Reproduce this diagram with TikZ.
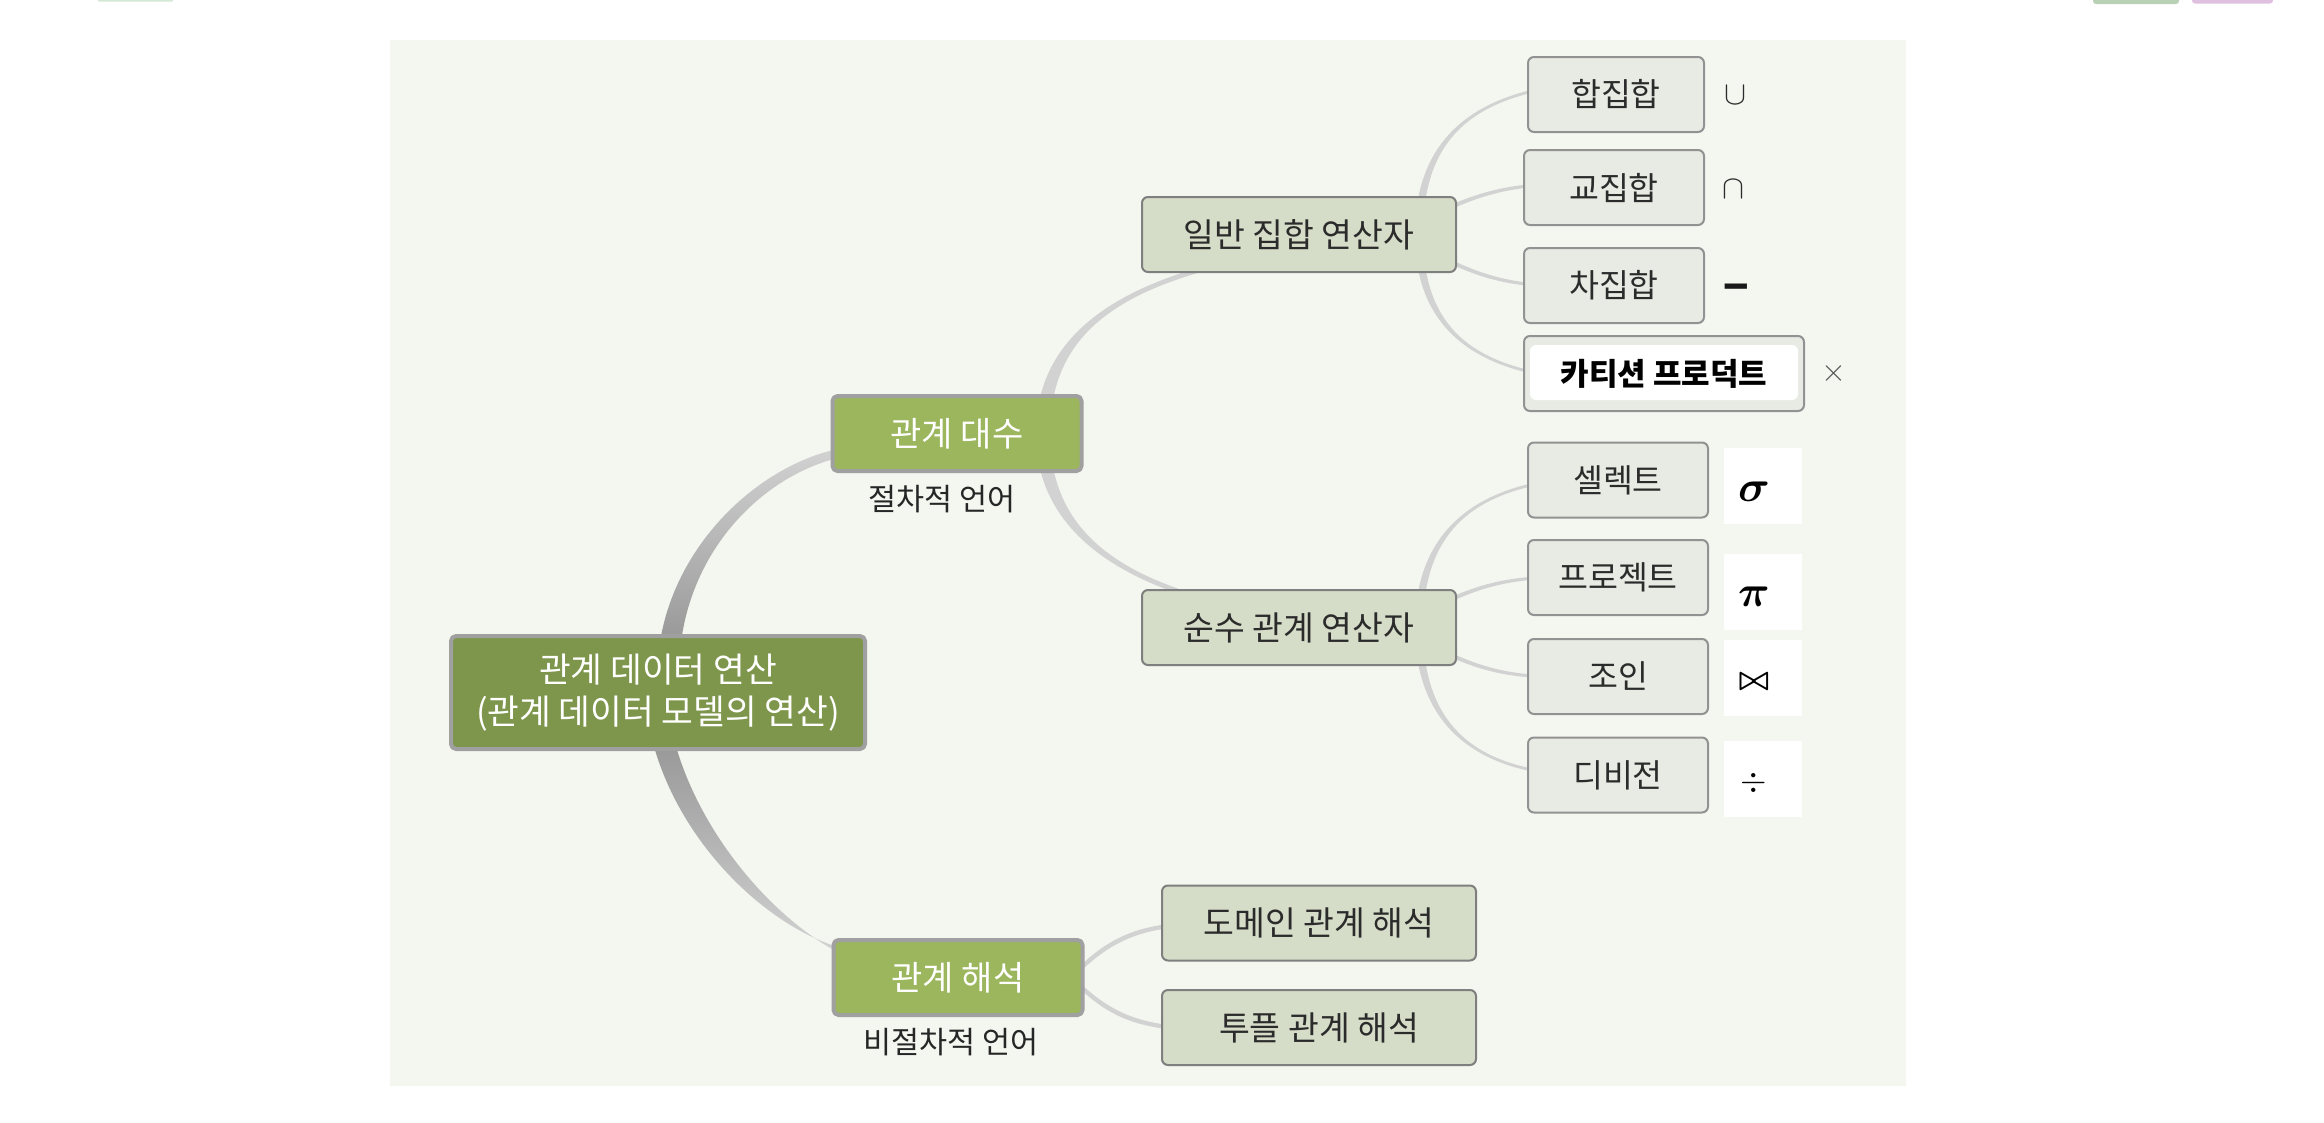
\RequirePackage{fix-cm}
\documentclass[tikz,border=0pt]{standalone}
\usepackage{amsmath}
\usepackage{fontspec}
\setmainfont{Noto Sans CJK KR}
\usetikzlibrary{positioning,calc}
\pgfdeclarelayer{back}
\pgfsetlayers{back,main}

\definecolor{panel}{HTML}{F4F6F0}
\definecolor{rootgreen}{HTML}{7E964C}
\definecolor{mossgreen}{HTML}{9BB65D}
\definecolor{boxline}{HTML}{A0A0A0}
\definecolor{subfill}{HTML}{D5DCC7}
\definecolor{leaffill}{HTML}{E8EBE3}
\definecolor{edgegray}{HTML}{7F7F7F}
\definecolor{twiggray}{HTML}{D2D2D2}
\definecolor{trunkdark}{HTML}{989898}
\definecolor{inkgray}{HTML}{2B2B2B}
\definecolor{tabmint}{HTML}{D3E8D5}
\definecolor{tabgreen}{HTML}{B8D0B4}
\definecolor{tabpink}{HTML}{DFC0E1}

\tikzset{
  rootbox/.style={draw=boxline, line width=4pt, fill=rootgreen, rounded corners=5pt,
    text=white, align=center, minimum width=414pt, minimum height=113pt, outer sep=0pt,
    font=\fontsize{34.5}{42}\selectfont},
  mainbox/.style={draw=boxline, line width=4pt, fill=mossgreen, rounded corners=5pt,
    text=white, minimum width=249pt, minimum height=75pt, outer sep=0pt,
    font=\fontsize{34}{40}\selectfont},
  subbox/.style={draw=edgegray, line width=2pt, fill=subfill, rounded corners=6pt,
    text=inkgray, minimum width=314pt, minimum height=75pt, outer sep=0pt,
    font=\fontsize{33.5}{40}\selectfont},
  leafbox/.style={draw=edgegray!85, line width=2pt, fill=leaffill, rounded corners=6pt,
    text=inkgray, minimum width=180pt, minimum height=75pt, outer sep=0pt,
    font=\fontsize{32.5}{38}\selectfont},
  symbox/.style={fill=white, minimum width=78pt, minimum height=76pt, inner sep=0pt, outer sep=0pt},
  symtext/.style={text=black, inner sep=0pt},
  opsign/.style={text=inkgray, inner sep=0pt},
  note/.style={text=black!85, inner sep=0pt, font=\fontsize{30.5}{36}\selectfont},
  twig/.style={fill=twiggray},
}

% tapered branch: start, ctrl1, ctrl2, end, start offset, end half width
\newcommand{\twig}[6]{%
  \fill[twig] ($#1+#5$) .. controls +#2 and +#3 .. ($#4+(0,#6)$)
    -- ($#4-(0,#6)$) .. controls +#3 and +#2 .. ($#1-#5$) -- cycle;}

\begin{document}
\begin{tikzpicture}[x=1pt, y=-1pt, line join=round, line cap=round]
	\useasboundingbox (0,0) rectangle (2324,1122);

	% tabs cut off at the top edge
	\fill[tabmint, rounded corners=1pt] (98,-6) rectangle (173,1.5);
	\fill[tabgreen, rounded corners=3pt] (2093,-6) rectangle (2179,4);
	\fill[tabpink, rounded corners=3pt] (2192,-6) rectangle (2273,3.5);

	\node[rootbox] (root) at (658,692.5) {관계 데이터 연산\\(관계 데이터 모델의 연산)};
	\node[mainbox] (algebra) at (957,433.5) {관계 대수};
	\node[mainbox] (calculus) at (958,977.5) {관계 해석};
	\node[note] (algnote) at ($(algebra.south)+(-15,28)$) {절차적 언어};
	\node[note] (calcnote) at ($(calculus.south)+(-7,27)$) {비절차적 언어};

	\node[subbox] (setop) at (1299,234.5) {일반 집합 연산자};
	\node[subbox] (pureop) at (1299,627.5) {순수 관계 연산자};
	\node[subbox] (domain) at (1319,923) {도메인 관계 해석};
	\node[subbox] (tuple) at (1319,1027.5) {투플 관계 해석};

	\node[leafbox, minimum width=176pt] (union) at (1616,94.5) {합집합};
	\node[leafbox] (inter) at (1614,187.5) {교집합};
	\node[leafbox] (diff) at (1614,285.5) {차집합};
	\node[leafbox, minimum width=280pt, text=black, font=\fontsize{31}{36}\selectfont\bfseries,
		path picture={\fill[white] ([shift={(6,9)}]path picture bounding box.north west)
			rectangle ([shift={(-6,-11)}]path picture bounding box.south east);}]
		(cart) at (1664,373.5) {카티션 프로덕트};
	\node[leafbox] (select) at (1618,480) {셀렉트};
	\node[leafbox] (project) at (1618,577.5) {프로젝트};
	\node[leafbox] (join) at (1618,676.5) {조인};
	\node[leafbox] (divide) at (1618,775) {디비전};

	% set operator signs
	\node[opsign, font=\fontsize{33}{33}\selectfont] (unionsign) at (1735,95) {$\cup$};
	\node[opsign, font=\fontsize{33}{33}\selectfont] (intersign) at (1733,189) {$\cap$};
	\node[opsign, text=black!90, font=\fontsize{42}{42}\selectfont\bfseries] (diffsign) at (1736,293) {−};
	\node[opsign, text=black!65, font=\fontsize{32}{32}\selectfont] (cartsign) at (1834,373) {$\times$};

	% relational operator signs
	\node[symbox] (selsym) at (1763,486) {};
	\node[symbox] (projsym) at (1763,591.5) {};
	\node[symbox] (joinsym) at (1763,677.5) {};
	\node[symbox] (divsym) at (1763,779) {};
	\node[symtext, font=\fontsize{44}{44}\selectfont] at ($(selsym)+(-9,6)$) {$\boldsymbol{\sigma}$};
	\node[symtext, font=\fontsize{44}{44}\selectfont] at ($(projsym)+(-9,5.5)$) {$\boldsymbol{\pi}$};
	\node[symtext, font=\fontsize{32}{32}\selectfont] at ($(joinsym)+(-9,4.5)$) {$\boldsymbol{\bowtie}$};
	\node[symtext, font=\fontsize{34}{34}\selectfont] at ($(divsym)+(-9,4)$) {$\div$};

	\begin{pgfonlayer}{back}
	\fill[panel] (390,40) rectangle (1906,1086);

	% trunks from the root
	\path[bottom color=trunkdark, top color=twiggray]
		($(root.north)+(2,6)$) .. controls +(16,-100) and +(-78,17) .. ($(algebra.west)+(5,15.5)$)
		-- ($(algebra.west)+(5,24.5)$) .. controls +(-72,18) and +(13,-98) .. ($(root.north)+(23,6)$) -- cycle;
	\path[top color=trunkdark, bottom color=twiggray]
		($(root.south)+(-5,-6)$) .. controls +(27,100) and +(-73,-23) .. ($(calculus.west)+(4,-30.5)$)
		-- ($(calculus.west)+(4,-25.5)$) .. controls +(-67,-36) and +(25,90) .. ($(root.south)+(17,-6)$) -- cycle;

	\twig{(algebra)+(86,0)}{(0,-93.5)}{(-120,28)}{(setop)+(-69,27.5)}{(7,0)}{2.5}
	\twig{(algebra)+(86,0)}{(0,91.5)}{(-120,-28)}{(pureop)+(-69,-21.5)}{(-7,0)}{2.5}
	\twig{(calculus)+(102,12.5)}{(40,-45)}{(-70,1)}{(domain)+(-119,1)}{(0,3)}{2}
	\twig{(calculus)+(102,-12.5)}{(40,45)}{(-70,-1)}{(tuple)+(-119,1.5)}{(0,3)}{2}

	\twig{(setop)+(120,0)}{(0,-84)}{(-100,14)}{(union)+(-56,-8.5)}{(4,0)}{1.5}
	\twig{(setop)+(101,-6.5)}{(60,-22)}{(-80,2)}{(inter)+(-54,-3.5)}{(0,2.5)}{1.5}
	\twig{(setop)+(101,6.5)}{(60,21)}{(-80,-1)}{(diff)+(-54,0.5)}{(0,2.5)}{1.5}
	\twig{(setop)+(120,0)}{(0,86)}{(-95,-12)}{(cart)+(-104,3.5)}{(-4,0)}{1.5}

	\twig{(pureop)+(120,0)}{(0,-83)}{(-100,12)}{(select)+(-58,0)}{(4,0)}{1.5}
	\twig{(pureop)+(101,-6.5)}{(60,-23)}{(-80,1)}{(project)+(-58,-0.5)}{(0,2.5)}{1.5}
	\twig{(pureop)+(101,6.5)}{(60,22)}{(-80,0)}{(join)+(-58,0.5)}{(0,2.5)}{1.5}
	\twig{(pureop)+(120,0)}{(0,83)}{(-100,-9)}{(divide)+(-58,-1)}{(-4,0)}{1.5}
	\end{pgfonlayer}
\end{tikzpicture}
\end{document}
